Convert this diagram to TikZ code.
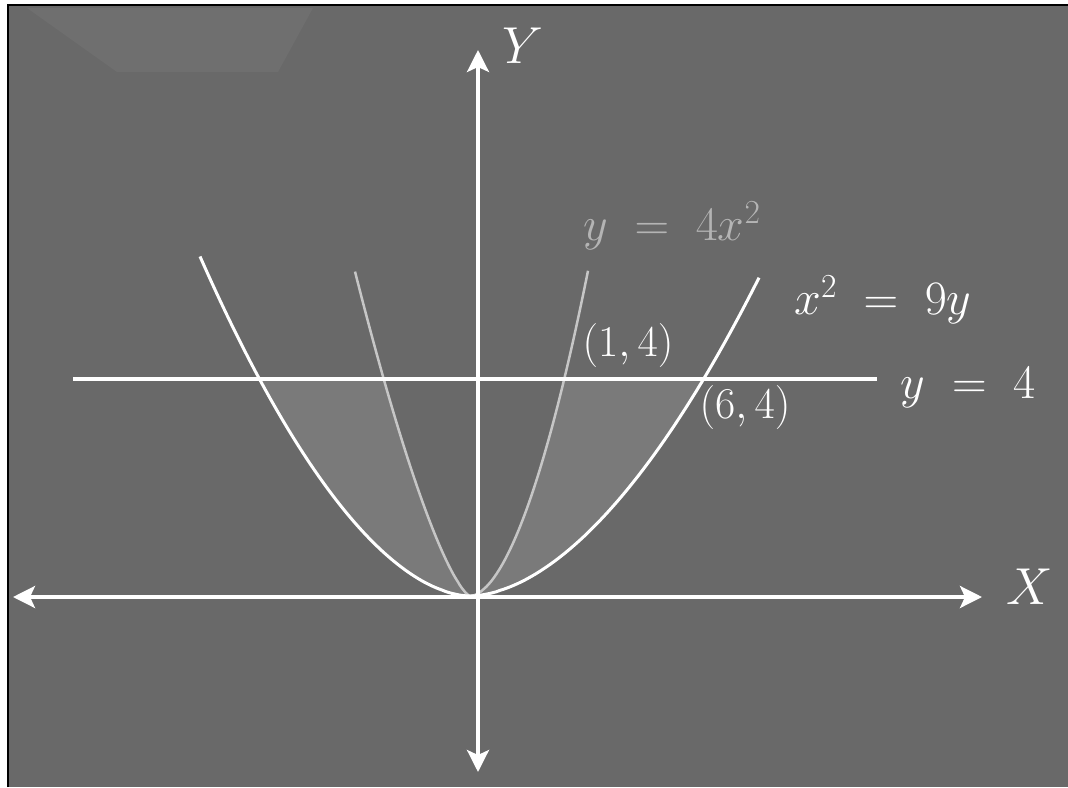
\RequirePackage{fix-cm}
\documentclass[tikz,border=0pt]{standalone}
\usetikzlibrary{arrows.meta}
\definecolor{board}{HTML}{696969}
\definecolor{bandfill}{HTML}{7A7A7A}
\definecolor{faint}{HTML}{C6C6C6}
\definecolor{haze}{HTML}{6F6F6F}
\definecolor{dimtext}{HTML}{B4B4B4}
\begin{document}
\begin{tikzpicture}[x=1pt,y=-1pt,font=\fontsize{44}{50}\selectfont,
  axis/.style={white,line width=3.5pt,{Stealth[length=22pt,width=22pt,inset=5pt]}-{Stealth[length=22pt,width=22pt,inset=5pt]}},
  curve/.style={white,line width=3pt,line join=round},
  inner/.style={faint,line width=2.5pt,line join=round},
  lab/.style={white,inner sep=0pt},
  eq/.style={lab,font=\fontsize{48}{56}\selectfont}]
\useasboundingbox (0,0) rectangle (1068,787);
\fill[white] (0,0) rectangle (1068,787);
\fill[board] (8,5) rectangle (1068,787);
\draw[black,line width=1.5pt] (8,787)--(8,5)--(1068,5);
\fill[haze] (27,8)--(313,8)--(278,72)--(117,72)--cycle;
% filled parts between the two parabolas, below y=4
\fill[bandfill] plot[domain=0.5:210,samples=60] ({470-\x},{596-216*pow(\x/210,1.8)})
  -- plot[domain=86:0.5,samples=60] ({470-\x},{596-216*pow(\x/86,1.4)}) -- cycle;
\fill[bandfill] plot[domain=0.5:233,samples=60] ({470+\x},{596-216*pow(\x/233,1.8)})
  -- plot[domain=94:0.5,samples=60] ({470+\x},{596-216*pow(\x/94,1.8)}) -- cycle;
% parabolas
\draw[inner] plot[domain=115:0.5,samples=60] ({470-\x},{596-216*pow(\x/86,1.4)})
  -- plot[domain=0.5:118,samples=60] ({470+\x},{596-216*pow(\x/94,1.8)});
\draw[curve] plot[domain=270:0.5,samples=80] ({470-\x},{596-216*pow(\x/210,1.8)})
  -- plot[domain=0.5:289,samples=80] ({470+\x},{596-216*pow(\x/233,1.8)});
% line y=4 and axes
\coordinate (ll) at (73,379);
\coordinate (lr) at (877,379);
\draw[white,line width=4pt] (ll)--(lr);
\coordinate (xl) at (13,597);
\coordinate (xr) at (982,597);
\coordinate (yb) at (478,772);
\coordinate (yt) at (478,50);
\draw[axis] (xl)--(xr);
\draw[axis] (yb)--(yt);
% labels
\node[lab,font=\fontsize{52}{60}\selectfont] (ylab) at (523,46) {$Y$};
\node[lab,font=\fontsize{52}{60}\selectfont] (xlab) at (1030,587) {$X$};
\node[eq,dimtext] (eqa) at (672,226) {$y\;=\;4x^2$};
\node[eq] (eqb) at (883,300) {$x^2\;=\;9y$};
\node[eq] (eqc) at (968,388) {$y\;=\;4$};
\node[lab] (pa) at (628,345) {$(1,4)$};
\node[lab] (pb) at (745,407) {$(6,4)$};
\end{tikzpicture}
\end{document}
